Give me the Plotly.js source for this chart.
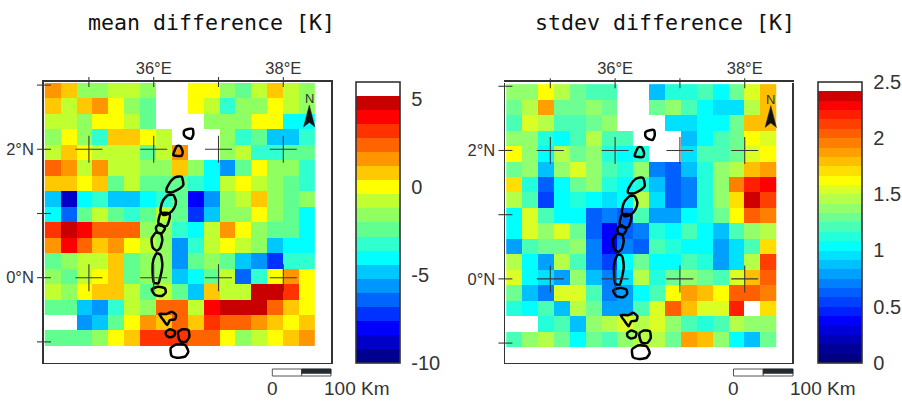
<!DOCTYPE html>
<html><head><meta charset="utf-8">
<script src="https://cdn.plot.ly/plotly-3.0.1.min.js"></script>
<style>html,body{margin:0;padding:0;background:#fff}#c{width:902px;height:401px}</style>
</head><body><div id="c"></div>
<script>
const _ = null;
const meanDiff = [
[1.6,.8,-1.6,-1.6,-.8,-.8,-1.6,_,_,0,0,-1.6,-2.4,-.8,.8,-.8,-1.6],
[.8,-.8,.8,1.6,0,-1.6,-2.4,_,_,0,-.8,-3.2,-1.6,-1.6,0,-.8,-1.6],
[-.8,-.8,-1.6,0,0,-.8,-2.4,_,_,_,-1.6,-1.6,-1.6,0,0,-4,-4],
[-1.6,0,-1.6,-3.2,.8,.8,0,-.8,_,_,_,-1.6,-3.2,-2.4,-4.8,-4.8,-3.2],
[-.8,.8,0,-.8,-.8,-.8,-2.4,-.8,1.6,_,_,-1.6,-.8,-3.2,-3.2,-2.4,-2.4],
[2.4,1.6,-.8,1.6,-.8,-.8,-1.6,-1.6,.8,-1.6,-4,-5.6,-2.4,0,-1.6,-1.6,-3.2],
[.8,.8,0,.8,-2.4,-.8,-2.4,-2.4,-2.4,-3.2,-4,-.8,0,-.8,-1.6,-2.4,-3.2],
[-4.8,-8.8,-4,-3.2,-4.8,-4.8,-4,-3.2,-2.4,-8,-5.6,-1.6,-.8,.8,-1.6,-2.4,-1.6],
[-4,-6.4,-2.4,-.8,-2.4,-3.2,-2.4,-.8,-2.4,-7.2,-4.8,-1.6,-1.6,0,-1.6,-2.4,-4],
[3.2,4.8,4,2.4,2.4,2.4,-1.6,-1.6,-3.2,-4,-.8,1.6,0,-1.6,-2.4,-2.4,-4],
[1.6,4,2.4,.8,1.6,0,-.8,-1.6,-5.6,-3.2,-.8,0,-.8,-1.6,-4.8,-4,-4],
[-2.4,-1.6,-.8,-.8,.8,-2.4,-1.6,-1.6,-5.6,-2.4,-1.6,-2.4,-4.8,-5.6,-7.2,-3.2,-3.2],
[-1.6,-2.4,-.8,0,.8,-2.4,-1.6,-1.6,-4.8,-4,-2.4,-.8,-6.4,-3.2,0,1.6,0],
[-.8,-1.6,0,.8,.8,-.8,-2.4,-.8,-2.4,-4.8,.8,-.8,-.8,4.8,4.8,3.2,0],
[-2.4,-2.4,-4.8,-5.6,-3.2,-.8,-1.6,2.4,2.4,-.8,4,4.8,4.8,4.8,2.4,.8,0],
[_,_,-5.6,-4.8,-2.4,0,1.6,.8,2.4,.8,3.2,2.4,2.4,1.6,.8,0,.8],
[-2.4,-2.4,-2.4,-1.6,0,.8,3.2,3.2,3.2,2.4,2.4,0,-1.6,-.8,0,.8,1.6]
];
const stdevDiff = [
[1.37,1.37,1.62,1.46,1.29,1.21,1.21,_,_,.87,1.12,1.12,1.21,1.04,1.29,1.54,1.79],
[1.29,1.46,1.87,1.29,1.29,1.37,1.29,_,_,1.29,1.37,1.21,1.04,.96,.96,1.46,1.79],
[1.21,1.54,1.46,1.21,1.21,1.29,1.37,_,_,_,.96,.96,1.04,1.04,1.29,1.79,1.79],
[1.37,1.37,1.12,1.04,1.21,1.46,1.21,1.21,_,_,_,.87,1.04,1.21,1.29,1.62,1.54],
[1.62,1.37,1.04,1.46,1.29,1.37,1.12,1.04,1.12,_,_,.96,1.21,1.21,1.29,1.54,1.62],
[1.29,1.37,.87,1.37,1.5,1.37,1.21,1.12,1.37,.71,.62,.87,1.12,1.37,1.46,1.79,1.87],
[1.7,1.12,.62,1.04,1.29,1.37,1.12,1.04,1.12,.87,.62,.71,1.12,1.37,1.96,2.2,2.29],
[1.46,1.21,.54,1.04,1.12,1.04,.96,1.04,1.46,.96,.62,.71,1.12,1.37,1.71,2.37,2.12],
[1.04,1.54,1.21,1.04,1.04,.62,.71,.62,1.21,.79,.79,1.04,1.12,1.29,1.62,2.04,1.96],
[1.04,1.54,1.37,1.5,1.29,.62,.4,.62,.71,1.12,1.04,1.21,1.04,.87,1.21,1.37,1.46],
[.79,1.21,1.29,1.29,1.37,.71,.37,.7,.62,1.21,1.12,1.04,1.04,.79,.96,1.21,1.71],
[1.46,1.04,.79,1.46,1.21,.71,.54,1.0,1.29,1.04,1.04,1.21,1.12,.79,.96,1.46,2.12],
[1.54,1.04,.96,.79,1.37,.87,.71,.96,1.46,1.12,1.29,1.37,1.29,1.21,1.54,1.79,2.04],
[1.29,.87,.71,1.54,1.54,1.21,.71,.79,1.04,1.21,1.62,1.87,1.79,1.62,2.04,2.04,1.96],
[1.12,1.04,1.21,.87,1.46,1.29,.79,.79,1.21,1.54,2.04,1.79,1.54,1.54,2.21,_,1.71],
[_,_,1.12,1.21,.87,1.37,1.46,1.5,1.46,1.54,1.37,1.21,1.12,1.21,1.46,1.37,1.37],
[1.21,1.37,1.46,1.29,1.04,1.29,1.21,1.37,1.46,1.46,1.29,1.87,1.79,1.37,1.04,.87,1.29]
];
const meanBands = ['#000090','#0000c8','#0000ff','#0032ff','#0064ff','#0096ff','#00c8ff','#00ffff','#30ffd0','#60ff90','#90ff60','#c0ff30','#ffff00','#ffc800','#ff9600','#ff6400','#ff3200','#ff0000','#c80000','#ffffff'];
const stdevBands = ['#000080','#000098','#0000b8','#0000d8','#0000ff','#0020ff','#0040ff','#0060ff','#0080ff','#00a0ff','#00c0ff','#00e0ff','#00ffff','#24ffdb','#49ffb6','#6dff92','#92ff6d','#b6ff49','#dbff24','#ffff00','#ffdf00','#ffbf00','#ff9f00','#ff7f00','#ff5f00','#ff3f00','#ff1f00','#ff0000','#d00000','#ffffff'];
const gridLons = [35,36,37,38];
const gridLats = [2,0];
const tickLats = [3,2,1,0,-1];
const xLabelVals = [36,38], xLabels = ['36°E','38°E'];
const yLabelVals = [2,0], yLabels = ['2°N','0°N'];
const meanTicks = [5,0,-5,-10], stdevTicks = [2.5,2,1.5,1,0.5,0];
const lonRange = [34.307,38.736], latRange = [-1.321,3.048];
const lakeLon = [36.468,36.534,36.601,36.612,36.581,36.509,36.468,36.468,_,
36.303,36.360,36.406,36.447,36.432,36.303,_,
36.200,36.277,36.354,36.431,36.457,36.406,36.277,36.200,36.200,_,
36.107,36.148,36.226,36.303,36.344,36.313,36.241,36.148,36.107,36.107,_,
36.107,36.241,36.251,36.200,36.087,36.071,36.107,_,
36.035,36.097,36.174,36.123,36.056,36.035,_,
35.969,36.035,36.107,36.133,36.097,36.046,35.984,35.969,_,
36.046,36.107,36.133,36.097,36.071,36.004,35.984,35.994,36.046,_,
35.969,36.071,36.174,36.185,36.123,36.020,35.969,_,
36.087,36.200,36.277,36.344,36.329,36.251,36.210,36.149,36.087,_,
36.190,36.251,36.329,36.313,36.241,36.190,36.190,_,
36.380,36.447,36.534,36.550,36.498,36.416,36.380,36.380,_,
36.262,36.354,36.483,36.534,36.483,36.354,36.277,36.262];
const lakeLat = [2.285,2.316,2.316,2.238,2.166,2.181,2.223,2.285,_,
1.911,2.051,2.051,1.963,1.901,1.911,_,
1.392,1.521,1.573,1.573,1.444,1.392,1.329,1.340,1.392,_,
1.080,1.210,1.288,1.288,1.184,1.080,1.002,.976,1.028,1.080,_,
1.002,1.002,.950,.805,.820,.872,1.002,_,
.785,.836,.769,.691,.701,.785,_,
.613,.701,.691,.587,.457,.421,.473,.613,_,
.380,.354,.198,-.010,-.088,-.077,.068,.276,.380,_,
-.181,-.140,-.166,-.233,-.285,-.270,-.181,_,
-.565,-.565,-.529,-.581,-.649,-.659,-.737,-.659,-.565,_,
-.841,-.804,-.841,-.908,-.929,-.893,-.841,_,
-.841,-.804,-.815,-.919,-.996,-.996,-.919,-.841,_,
-1.100,-1.038,-1.048,-1.152,-1.230,-1.246,-1.220,-1.100];

const W=902,H=401;
const fx=p=>p/W, fy=p=>1-p/H;
const ink='#333333';
const steps=b=>{const n=b.length,o=[];b.forEach((c,i)=>{o.push([i/n,c],[(i+1)/n,c]);});return o;};
const crossX=[],crossY=[];
gridLats.forEach(la=>gridLons.forEach(lo=>{crossX.push(lo);crossY.push(la);}));

function panel(z,xa,ya,bands,zmin,zmax,ticks,barX){
  return [
   {type:'heatmap',z:z,x0:34.32+0.1227,dx:0.2454,y0:3.033-0.1207,dy:-0.2414,xaxis:xa,yaxis:ya,zmin:zmin,zmax:zmax,
    colorscale:steps(bands),hoverongaps:false,xgap:0,ygap:0,
    colorbar:{xref:'paper',yref:'paper',x:fx(barX),xanchor:'left',xpad:0,ypad:0,thickness:43.5,thicknessmode:'pixels',
      y:fy(362.8),yanchor:'bottom',len:280.8,lenmode:'pixels',outlinewidth:1.6,outlinecolor:ink,borderwidth:0,
      tickmode:'array',tickvals:ticks,ticktext:ticks.map(String),ticks:'outside',ticklen:7,tickcolor:'rgba(0,0,0,0)',
      tickfont:{family:'Liberation Sans',size:20,color:ink}}},
   {type:'scatter',mode:'lines',x:lakeLon,y:lakeLat,xaxis:xa,yaxis:ya,line:{color:'#000',width:2.5,shape:'spline',smoothing:0.6},connectgaps:false,hoverinfo:'skip'},
   {type:'scatter',mode:'markers',x:crossX,y:crossY,xaxis:xa,yaxis:ya,hoverinfo:'skip',
     marker:{symbol:'cross-thin',size:19.3,color:ink,line:{color:'#3a3a3a',width:1.1}}},
   {type:'scatter',mode:'markers',x:gridLons,y:gridLons.map(()=>latRange[1]),xaxis:xa,yaxis:ya,cliponaxis:false,hoverinfo:'skip',
     marker:{symbol:'line-ns',size:7.2,line:{color:'#3a3a3a',width:1.1}}},
   {type:'scatter',mode:'markers',x:tickLats.map(()=>lonRange[0]),y:tickLats,xaxis:xa,yaxis:ya,cliponaxis:false,hoverinfo:'skip',
     marker:{symbol:'line-ew',size:10,line:{color:'#3a3a3a',width:1.1}}}
  ];
}
const data=[...panel(meanDiff,'x','y',meanBands,-10,6,meanTicks,356),
            ...panel(stdevDiff,'x2','y2',stdevBands,0,2.5,stdevTicks,817.5)];

const xax=(l,r)=>({domain:[fx(l),fx(r)],range:lonRange,side:'top',showgrid:false,zeroline:false,showline:true,mirror:true,linecolor:ink,linewidth:1.8,
  tickmode:'array',tickvals:xLabelVals,ticktext:xLabels,ticks:'',tickfont:{family:'Liberation Sans',size:16.5,color:ink}});
const yax=(t,b,anchor)=>({domain:[fy(b),fy(t)],range:latRange,anchor:anchor,showgrid:false,zeroline:false,showline:true,mirror:true,linecolor:ink,linewidth:1.8,
  tickmode:'array',tickvals:yLabelVals,ticktext:yLabels,ticks:'outside',ticklen:5,tickcolor:'rgba(0,0,0,0)',tickfont:{family:'Liberation Sans',size:16.5,color:ink}});

function arrowAndScale(dx,dy,sx0,sx1){
  const P=(x,y)=>`${fx(x+dx)},${fy(y+dy)}`;
  const mid=(sx0+sx1)/2;
  return [
   {type:'path',xref:'paper',yref:'paper',path:`M${P(309.3,105)} L${P(315,127)} L${P(309.3,122.5)} L${P(303.5,127)} Z`,fillcolor:'#111',line:{color:'#333',width:0.5},layer:'above'},
   {type:'rect',xref:'paper',yref:'paper',x0:fx(sx0),x1:fx(mid),y0:fy(376),y1:fy(369),fillcolor:'#fff',line:{color:'#555',width:1}},
   {type:'rect',xref:'paper',yref:'paper',x0:fx(mid),x1:fx(sx1),y0:fy(376),y1:fy(369),fillcolor:'#fff',line:{color:'#555',width:1}},
   {type:'rect',xref:'paper',yref:'paper',x0:fx(mid),x1:fx(sx1),y0:fy(373.5),y1:fy(369),fillcolor:'#222c33',line:{color:'#222',width:0.5}}
  ];
}
const note=(text,x,y,size,family)=>({text:text,xref:'paper',yref:'paper',x:fx(x),y:fy(y),xanchor:'center',yanchor:'middle',showarrow:false,
  font:{family:family||'Liberation Sans',size:size,color:family?'#111':ink}});
const layout={width:W,height:H,margin:{l:0,r:0,t:0,b:0},paper_bgcolor:'#fff',plot_bgcolor:'#fff',showlegend:false,
  xaxis:xax(44,331),yaxis:yax(82,362.5,'x'),
  xaxis2:xax(505.4,792.4),yaxis2:yax(83.2,363.7,'x2'),
  shapes:[...arrowAndScale(0,0,272.3,331),...arrowAndScale(461.5,0.5,733.5,793)],
  annotations:[
   note('mean difference [K]',211,22,21.6,'DejaVu Sans Mono'),
   note('stdev difference [K]',665,22,21.6,'DejaVu Sans Mono'),
   note('N',309,98,13),note('N',770.5,99,13),
   note('0',272,388,19),note('100 Km',356,388,19),
   note('0',733,388,19),note('100 Km',822,388,19)
  ]};
Plotly.newPlot('c',data,layout,{displayModeBar:false,staticPlot:true});
</script></body></html>
